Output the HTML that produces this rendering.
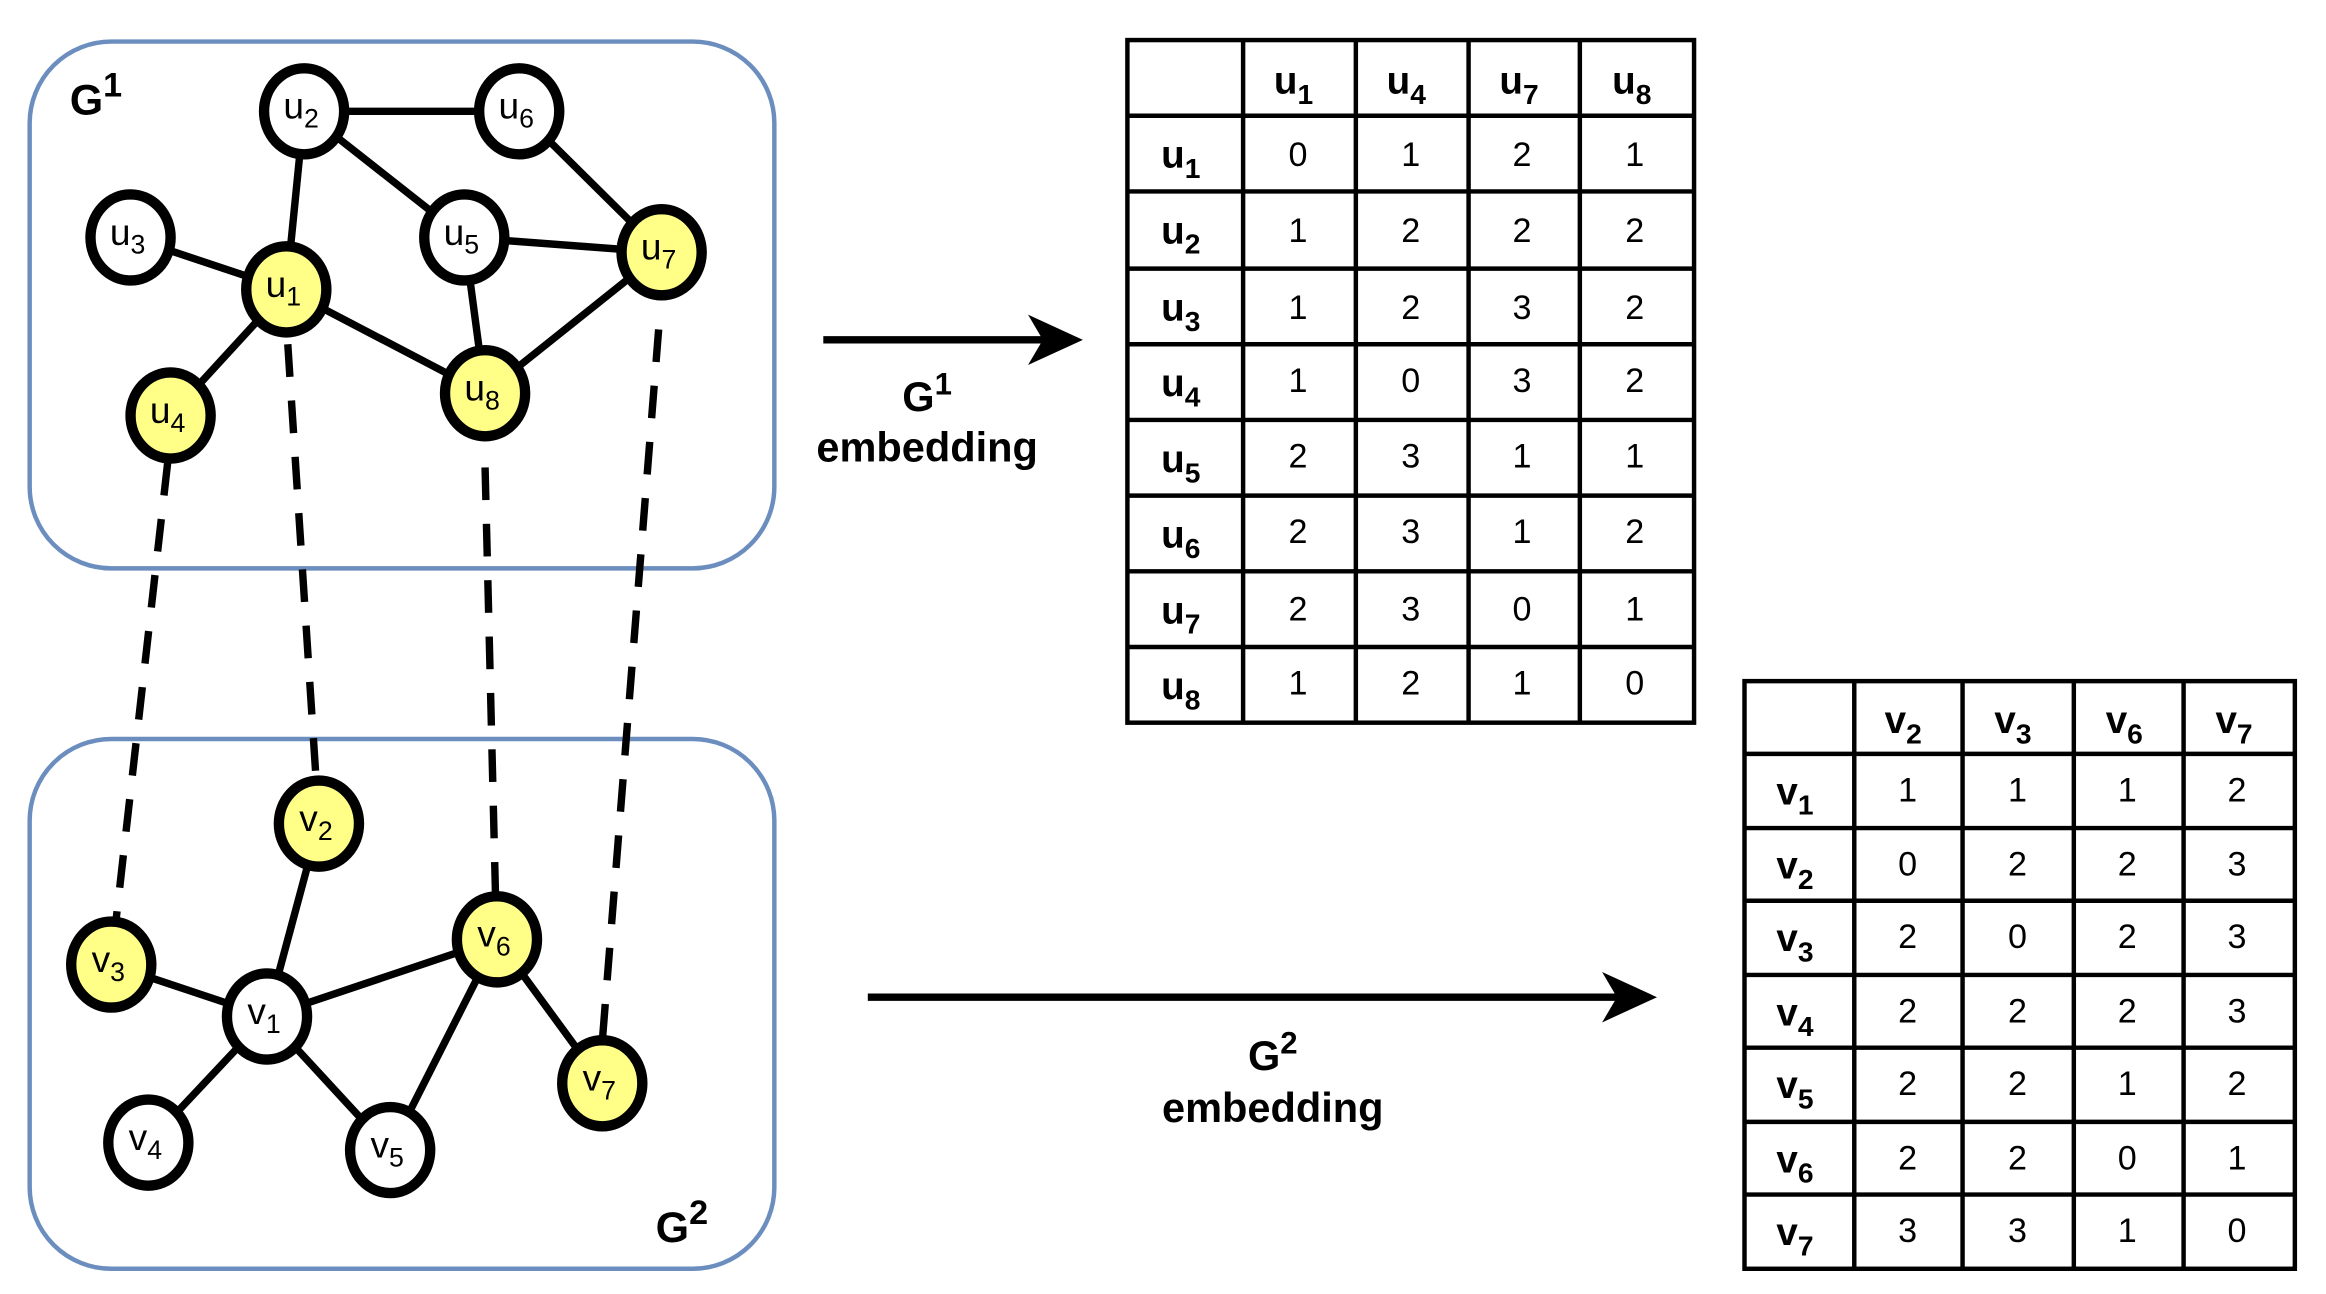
<!DOCTYPE html>
<html><head><meta charset="utf-8"><style>
html,body{margin:0;padding:0;background:#fff;}
svg{display:block;}
text{font-family:"Liberation Sans",Arial,sans-serif;}
</style></head><body>
<svg width="2326" height="1294" viewBox="0 0 1568 872" preserveAspectRatio="none" xmlns="http://www.w3.org/2000/svg">
<!-- boxes -->
<rect x="20" y="28" width="502" height="355" rx="55" fill="none" stroke="#6c8ebf" stroke-width="3"/>
<rect x="20" y="498" width="502" height="357" rx="55" fill="none" stroke="#6c8ebf" stroke-width="3"/>
<text x="47" y="77" font-size="29" font-weight="bold">G<tspan dy="-12" font-size="23">1</tspan></text>
<text x="442" y="837" font-size="29" font-weight="bold">G<tspan dy="-12" font-size="23">2</tspan></text>
<!-- dashed -->
<g stroke="#000" stroke-width="5" stroke-dasharray="22,16" fill="none">
<line x1="113" y1="312" x2="78" y2="622"/>
<line x1="194" y1="232" x2="213" y2="524"/>
<line x1="327" y1="315" x2="334" y2="602"/>
<line x1="444" y1="222" x2="406" y2="702"/>
</g>
<!-- edges -->
<g stroke="#000" stroke-width="5">
<line x1="205" y1="75" x2="350" y2="75"/>
<line x1="205" y1="75" x2="193" y2="195"/>
<line x1="205" y1="75" x2="313" y2="160"/>
<line x1="88" y1="160" x2="193" y2="195"/>
<line x1="193" y1="195" x2="115" y2="280"/>
<line x1="193" y1="195" x2="327" y2="265"/>
<line x1="313" y1="160" x2="446" y2="170"/>
<line x1="313" y1="160" x2="327" y2="265"/>
<line x1="327" y1="265" x2="446" y2="170"/>
<line x1="350" y1="75" x2="446" y2="170"/>
<line x1="215" y1="555" x2="180" y2="685"/>
<line x1="75" y1="650" x2="180" y2="685"/>
<line x1="180" y1="685" x2="335" y2="633"/>
<line x1="180" y1="685" x2="100" y2="770"/>
<line x1="180" y1="685" x2="263" y2="775"/>
<line x1="335" y1="633" x2="263" y2="775"/>
<line x1="335" y1="633" x2="406" y2="730"/>
</g>
<!-- nodes -->
<g stroke="#000" stroke-width="7">
<ellipse cx="205" cy="75" rx="27" ry="29" fill="#fff"/>
<ellipse cx="350" cy="75" rx="27" ry="29" fill="#fff"/>
<ellipse cx="88" cy="160" rx="27" ry="29" fill="#fff"/>
<ellipse cx="193" cy="195" rx="27" ry="29" fill="#ffff88"/>
<ellipse cx="313" cy="160" rx="27" ry="29" fill="#fff"/>
<ellipse cx="446" cy="170" rx="27" ry="29" fill="#ffff88"/>
<ellipse cx="115" cy="280" rx="27" ry="29" fill="#ffff88"/>
<ellipse cx="327" cy="265" rx="27" ry="29" fill="#ffff88"/>
<ellipse cx="215" cy="555" rx="27" ry="29" fill="#ffff88"/>
<ellipse cx="75" cy="650" rx="27" ry="29" fill="#ffff88"/>
<ellipse cx="180" cy="685" rx="27" ry="29" fill="#fff"/>
<ellipse cx="335" cy="633" rx="27" ry="29" fill="#ffff88"/>
<ellipse cx="406" cy="730" rx="27" ry="29" fill="#ffff88"/>
<ellipse cx="100" cy="770" rx="27" ry="29" fill="#fff"/>
<ellipse cx="263" cy="775" rx="27" ry="29" fill="#fff"/>
</g>
<g font-size="25" text-anchor="middle">
<text x="203" y="80">u<tspan font-size="18" dy="6">2</tspan></text>
<text x="348" y="80">u<tspan font-size="18" dy="6">6</tspan></text>
<text x="86" y="165">u<tspan font-size="18" dy="6">3</tspan></text>
<text x="191" y="200">u<tspan font-size="18" dy="6">1</tspan></text>
<text x="311" y="165">u<tspan font-size="18" dy="6">5</tspan></text>
<text x="444" y="175">u<tspan font-size="18" dy="6">7</tspan></text>
<text x="113" y="285">u<tspan font-size="18" dy="6">4</tspan></text>
<text x="325" y="270">u<tspan font-size="18" dy="6">8</tspan></text>
<text x="213" y="560">v<tspan font-size="18" dy="6">2</tspan></text>
<text x="73" y="655">v<tspan font-size="18" dy="6">3</tspan></text>
<text x="178" y="690">v<tspan font-size="18" dy="6">1</tspan></text>
<text x="333" y="638">v<tspan font-size="18" dy="6">6</tspan></text>
<text x="404" y="735">v<tspan font-size="18" dy="6">7</tspan></text>
<text x="98" y="775">v<tspan font-size="18" dy="6">4</tspan></text>
<text x="261" y="780">v<tspan font-size="18" dy="6">5</tspan></text>
</g>
<!-- arrows -->
<line x1="555" y1="229" x2="705" y2="229" stroke="#000" stroke-width="5"/>
<polygon points="730,229 693,212 703,229 693,246" fill="#000"/>
<line x1="585" y1="672" x2="1090" y2="672" stroke="#000" stroke-width="5"/>
<polygon points="1117,672 1080,655 1090,672 1080,689" fill="#000"/>
<g font-size="28" font-weight="bold" text-anchor="middle">
<text x="625" y="277">G<tspan dy="-11" font-size="21">1</tspan></text>
<text x="625" y="311">embedding</text>
<text x="858" y="721">G<tspan dy="-11" font-size="21">2</tspan></text>
<text x="858" y="756">embedding</text>
</g>
<!-- table 1 -->
<g stroke="#000" stroke-width="3" fill="none">
<rect x="760" y="27" width="382" height="460"/>
<line x1="838" y1="27" x2="838" y2="487"/><line x1="914" y1="27" x2="914" y2="487"/><line x1="990" y1="27" x2="990" y2="487"/><line x1="1065" y1="27" x2="1065" y2="487"/>
<line x1="760" y1="78" x2="1142" y2="78"/><line x1="760" y1="129" x2="1142" y2="129"/><line x1="760" y1="181" x2="1142" y2="181"/><line x1="760" y1="232" x2="1142" y2="232"/><line x1="760" y1="283" x2="1142" y2="283"/><line x1="760" y1="334" x2="1142" y2="334"/><line x1="760" y1="385" x2="1142" y2="385"/><line x1="760" y1="436" x2="1142" y2="436"/>
</g>
<g font-size="26" font-weight="bold" text-anchor="middle">
<text x="872" y="63">u<tspan font-size="19" dy="7">1</tspan></text>
<text x="948" y="63">u<tspan font-size="19" dy="7">4</tspan></text>
<text x="1024" y="63">u<tspan font-size="19" dy="7">7</tspan></text>
<text x="1100" y="63">u<tspan font-size="19" dy="7">8</tspan></text>
<text x="796" y="113">u<tspan font-size="19" dy="7">1</tspan></text>
<text x="796" y="164">u<tspan font-size="19" dy="7">2</tspan></text>
<text x="796" y="216">u<tspan font-size="19" dy="7">3</tspan></text>
<text x="796" y="267">u<tspan font-size="19" dy="7">4</tspan></text>
<text x="796" y="318">u<tspan font-size="19" dy="7">5</tspan></text>
<text x="796" y="369">u<tspan font-size="19" dy="7">6</tspan></text>
<text x="796" y="420">u<tspan font-size="19" dy="7">7</tspan></text>
<text x="796" y="471">u<tspan font-size="19" dy="7">8</tspan></text>
</g>
<g font-size="23" text-anchor="middle">
<text x="875" y="112">0</text><text x="951" y="112">1</text><text x="1026" y="112">2</text><text x="1102" y="112">1</text>
<text x="875" y="163">1</text><text x="951" y="163">2</text><text x="1026" y="163">2</text><text x="1102" y="163">2</text>
<text x="875" y="215">1</text><text x="951" y="215">2</text><text x="1026" y="215">3</text><text x="1102" y="215">2</text>
<text x="875" y="264">1</text><text x="951" y="264">0</text><text x="1026" y="264">3</text><text x="1102" y="264">2</text>
<text x="875" y="315">2</text><text x="951" y="315">3</text><text x="1026" y="315">1</text><text x="1102" y="315">1</text>
<text x="875" y="366">2</text><text x="951" y="366">3</text><text x="1026" y="366">1</text><text x="1102" y="366">2</text>
<text x="875" y="418">2</text><text x="951" y="418">3</text><text x="1026" y="418">0</text><text x="1102" y="418">1</text>
<text x="875" y="468">1</text><text x="951" y="468">2</text><text x="1026" y="468">1</text><text x="1102" y="468">0</text>
</g>
<!-- table 2 -->
<g stroke="#000" stroke-width="3" fill="none">
<rect x="1176" y="459" width="371" height="396"/>
<line x1="1250" y1="459" x2="1250" y2="855"/><line x1="1323" y1="459" x2="1323" y2="855"/><line x1="1398" y1="459" x2="1398" y2="855"/><line x1="1472" y1="459" x2="1472" y2="855"/>
<line x1="1176" y1="508" x2="1547" y2="508"/><line x1="1176" y1="558" x2="1547" y2="558"/><line x1="1176" y1="607" x2="1547" y2="607"/><line x1="1176" y1="657" x2="1547" y2="657"/><line x1="1176" y1="706" x2="1547" y2="706"/><line x1="1176" y1="756" x2="1547" y2="756"/><line x1="1176" y1="805" x2="1547" y2="805"/>
</g>
<g font-size="26" font-weight="bold" text-anchor="middle">
<text x="1283" y="494">v<tspan font-size="19" dy="7">2</tspan></text>
<text x="1357" y="494">v<tspan font-size="19" dy="7">3</tspan></text>
<text x="1432" y="494">v<tspan font-size="19" dy="7">6</tspan></text>
<text x="1506" y="494">v<tspan font-size="19" dy="7">7</tspan></text>
<text x="1210" y="542">v<tspan font-size="19" dy="7">1</tspan></text>
<text x="1210" y="592">v<tspan font-size="19" dy="7">2</tspan></text>
<text x="1210" y="641">v<tspan font-size="19" dy="7">3</tspan></text>
<text x="1210" y="691">v<tspan font-size="19" dy="7">4</tspan></text>
<text x="1210" y="740">v<tspan font-size="19" dy="7">5</tspan></text>
<text x="1210" y="790">v<tspan font-size="19" dy="7">6</tspan></text>
<text x="1210" y="839">v<tspan font-size="19" dy="7">7</tspan></text>
</g>
<g font-size="23" text-anchor="middle">
<text x="1286" y="540">1</text><text x="1360" y="540">1</text><text x="1434" y="540">1</text><text x="1508" y="540">2</text>
<text x="1286" y="590">0</text><text x="1360" y="590">2</text><text x="1434" y="590">2</text><text x="1508" y="590">3</text>
<text x="1286" y="639">2</text><text x="1360" y="639">0</text><text x="1434" y="639">2</text><text x="1508" y="639">3</text>
<text x="1286" y="689">2</text><text x="1360" y="689">2</text><text x="1434" y="689">2</text><text x="1508" y="689">3</text>
<text x="1286" y="738">2</text><text x="1360" y="738">2</text><text x="1434" y="738">1</text><text x="1508" y="738">2</text>
<text x="1286" y="788">2</text><text x="1360" y="788">2</text><text x="1434" y="788">0</text><text x="1508" y="788">1</text>
<text x="1286" y="837">3</text><text x="1360" y="837">3</text><text x="1434" y="837">1</text><text x="1508" y="837">0</text>
</g>
</svg>
</body></html>
